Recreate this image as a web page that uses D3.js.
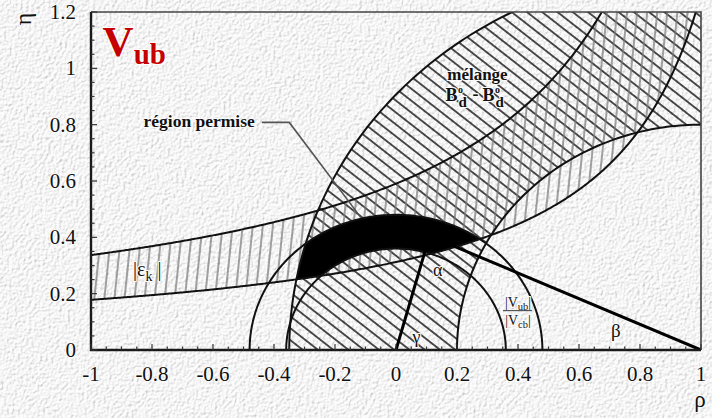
<!DOCTYPE html>
<html>
<head>
<meta charset="utf-8">
<script src="https://cdn.jsdelivr.net/npm/d3@7/dist/d3.min.js"></script>
<style>
  html, body { margin: 0; padding: 0; background: #eeeeee; }
  svg { display: block; }
  text { font-family: "Liberation Serif", "DejaVu Serif", serif; }
</style>
</head>
<body>
<svg id="chart" width="712" height="418"></svg>
<script>
// ---- Data: unitarity-triangle constraints in the (rho, eta) plane ----
const xTicks = [-1, -0.8, -0.6, -0.4, -0.2, 0, 0.2, 0.4, 0.6, 0.8, 1];
const xTickLabels = ["-1", "-0.8", "-0.6", "-0.4", "-0.2", "0", "0.2", "0.4", "0.6", "0.8", "1"];
const yTicks = [0, 0.2, 0.4, 0.6, 0.8, 1, 1.2];
const yTickLabels = ["0", "0.2", "0.4", "0.6", "0.8", "1", "1.2"];

// |Vub|/|Vcb| : circles centred on (0,0)
const vubCenter = [0, 0];
const vubRadius = [0.36, 0.48];
// B0d - B0d mixing : circles centred on (1,0)
const dmdCenter = [1, 0];
const dmdRadius = [0.80, 1.35];
// |eps_K| : hyperbolae  eta = k / (1 - rho + p)
const epsK = [0.415, 0.785];
const epsP = 0.329;
// apex of the triangle (rho, eta)
const apex = [0.11, 0.405];

const svg = d3.select("#chart");
const W = 712, H = 418;
const x = d3.scaleLinear().domain([-1, 1]).range([91, 701]);
const y = d3.scaleLinear().domain([0, 1.2]).range([350, 12]);

const defs = svg.append("defs");

// paper texture
const tex = defs.append("filter").attr("id", "paper")
  .attr("x", 0).attr("y", 0).attr("width", "100%").attr("height", "100%");
tex.append("feTurbulence").attr("type", "fractalNoise")
  .attr("baseFrequency", 0.36).attr("numOctaves", 2).attr("seed", 4).attr("result", "n");
tex.append("feDiffuseLighting").attr("in", "n").attr("surfaceScale", 1.4)
  .attr("diffuseConstant", 1.1).attr("lighting-color", "#ffffff").attr("result", "l")
  .append("feDistantLight").attr("azimuth", 225).attr("elevation", 58);

svg.append("rect").attr("width", W).attr("height", H).attr("fill", "#f3f3f3");
svg.append("rect").attr("width", W).attr("height", H).attr("filter", "url(#paper)").attr("opacity", 0.75);

// hatch patterns
function hatch(id, spacing, angle, color, width) {
  const p = defs.append("pattern").attr("id", id)
    .attr("patternUnits", "userSpaceOnUse")
    .attr("width", spacing).attr("height", 40)
    .attr("patternTransform", `rotate(${angle})`);
  p.append("line").attr("x1", spacing / 2).attr("x2", spacing / 2)
    .attr("y1", 0).attr("y2", 40)
    .attr("stroke", color).attr("stroke-width", width);
}
hatch("hDmd", 9.4, -52, "#1a1a1a", 1.5);
hatch("hEps", 10, 6, "#7a7a7a", 1.4);

// plot clip
defs.append("clipPath").attr("id", "clipPlot")
  .append("rect").attr("x", x(-1)).attr("y", y(1.2))
  .attr("width", x(1) - x(-1)).attr("height", y(0) - y(1.2));

// geometry helpers
const line = d3.line();
function circlePts(c, r) {
  return d3.range(0, 361, 1).map(a => {
    const t = a * Math.PI / 180;
    return [x(c[0] + r * Math.cos(t)), y(c[1] + r * Math.sin(t))];
  });
}
function circlePath(c, r) { return line(circlePts(c, r)) + "Z"; }
const rhoGrid = d3.range(-1, 1.0001, 0.004);
function epsPts(k) { return rhoGrid.map(r => [x(r), y(k / (1 - r + epsP))]); }

const dmdBand = circlePath(dmdCenter, dmdRadius[1]) + circlePath(dmdCenter, dmdRadius[0]);
const vubBand = circlePath(vubCenter, vubRadius[1]) + circlePath(vubCenter, vubRadius[0]);
const epsBand = line(epsPts(epsK[0]).concat(epsPts(epsK[1]).reverse())) + "Z";

defs.append("clipPath").attr("id", "clipDmd")
  .append("path").attr("d", dmdBand).attr("clip-rule", "evenodd");
defs.append("clipPath").attr("id", "clipEps")
  .append("path").attr("d", epsBand);

const plot = svg.append("g").attr("clip-path", "url(#clipPlot)");

// hatched bands
plot.append("path").attr("d", dmdBand).attr("fill", "url(#hDmd)").attr("fill-rule", "evenodd");
plot.append("path").attr("d", epsBand).attr("fill", "url(#hEps)");

// allowed region: intersection of all three constraints
plot.append("g").attr("clip-path", "url(#clipEps)")
  .append("g").attr("clip-path", "url(#clipDmd)")
  .append("path").attr("d", vubBand).attr("fill", "#000").attr("fill-rule", "evenodd");

// boundary curves
const curveStyle = s => s.attr("fill", "none").attr("stroke", "#111").attr("stroke-width", 2);
vubRadius.forEach(r => plot.append("path").attr("d", circlePath(vubCenter, r)).call(curveStyle));
dmdRadius.forEach(r => plot.append("path").attr("d", circlePath(dmdCenter, r)).call(curveStyle));
epsK.forEach(k => plot.append("path").attr("d", line(epsPts(k))).call(curveStyle));

// triangle sides
plot.append("path")
  .attr("d", line([[x(0), y(0)], [x(apex[0]), y(apex[1])], [x(1), y(0)]]))
  .attr("fill", "none").attr("stroke", "#000").attr("stroke-width", 3).attr("stroke-linejoin", "round");

// frame
svg.append("path")
  .attr("d", line([[x(-1), y(1.2)], [x(1), y(1.2)], [x(1), y(0)]]))
  .attr("fill", "none").attr("stroke", "#444").attr("stroke-width", 1.6);
svg.append("path")
  .attr("d", line([[x(-1), y(1.2)], [x(-1), y(0)], [x(1), y(0)]]))
  .attr("fill", "none").attr("stroke", "#1a1a1a").attr("stroke-width", 2.4);

// inside ticks
const minorX = d3.range(-1, 1.0001, 0.05);
const minorY = d3.range(0, 1.2001, 0.05);
const isMajor = v => Math.abs(v * 5 - Math.round(v * 5)) < 1e-6;
svg.append("g").selectAll("line").data(minorX).join("line")
  .attr("x1", d => x(d)).attr("x2", d => x(d))
  .attr("y1", y(0)).attr("y2", d => y(0) - (isMajor(d) ? 6 : 3.5))
  .attr("stroke", "#333").attr("stroke-width", 1.2);
svg.append("g").selectAll("line").data(minorY).join("line")
  .attr("y1", d => y(d)).attr("y2", d => y(d))
  .attr("x1", x(-1)).attr("x2", d => x(-1) + (isMajor(d) ? 6 : 3.5))
  .attr("stroke", "#333").attr("stroke-width", 1.2);

// text with a light halo
function label(g) {
  return g.attr("fill", "#111").attr("stroke", "#fafafa").attr("stroke-width", 2.2)
    .attr("stroke-linejoin", "round").attr("paint-order", "stroke");
}

svg.append("g").selectAll("text").data(xTicks).join("text")
  .attr("x", d => x(d)).attr("y", 381).attr("text-anchor", "middle")
  .attr("font-size", 21).text((d, i) => xTickLabels[i]).call(label);
svg.append("g").selectAll("text").data(yTicks).join("text")
  .attr("x", 76).attr("y", d => y(d) + 7).attr("text-anchor", "end")
  .attr("font-size", 21).text((d, i) => yTickLabels[i]).call(label);

// axis titles
svg.append("text").attr("transform", "translate(31,19) rotate(-90)")
  .attr("text-anchor", "middle").attr("font-size", 24).text("η").call(label);
svg.append("text").attr("x", 700).attr("y", 407).attr("text-anchor", "middle")
  .attr("font-size", 23).text("ρ").call(label);

// title
const t = svg.append("text").attr("x", x(-0.962)).attr("y", y(1.045))
  .attr("font-weight", "bold").attr("fill", "#c40000")
  .attr("stroke", "#ffffff").attr("stroke-width", 2).attr("paint-order", "stroke");
t.append("tspan").attr("font-size", 43).text("V");
t.append("tspan").attr("font-size", 29).attr("dy", 8).text("ub");

// annotations
svg.append("text").attr("x", x(-0.463)).attr("y", y(0.79)).attr("text-anchor", "end")
  .attr("font-size", 17.5).attr("font-weight", "bold").text("région permise").call(label);
svg.append("path")
  .attr("d", line([[x(-0.44), y(0.808)], [x(-0.35), y(0.808)], [x(-0.115), y(0.47)]]))
  .attr("fill", "none").attr("stroke", "#555").attr("stroke-width", 1.6);

svg.append("text").attr("x", x(0.168)).attr("y", y(0.959))
  .attr("font-size", 17).attr("font-weight", "bold").text("mélange").call(label);
// B0d - B0d, built from separate pieces so the marks stack cleanly
const bx = x(0.162), by = y(0.883);
const bParts = [
  { t: "B", dx: 0, dy: 0, s: 18 },
  { t: "o", dx: 12.5, dy: -8, s: 10 },
  { t: "d", dx: 13, dy: 6, s: 15 },
  { t: "-", dx: 27, dy: -1, s: 18 },
  { t: "B", dx: 37, dy: 0, s: 18 },
  { t: "o", dx: 49.5, dy: -8, s: 10 },
  { t: "d", dx: 50, dy: 6, s: 15 }
];
svg.append("g").selectAll("text").data(bParts).join("text")
  .attr("x", d => bx + d.dx).attr("y", d => by + d.dy)
  .attr("font-size", d => d.s).attr("font-weight", "bold").text(d => d.t).call(label);

const ek = svg.append("text").attr("x", x(-0.862)).attr("y", y(0.262))
  .attr("font-size", 20).call(label);
ek.append("tspan").text("|ε");
ek.append("tspan").attr("font-size", 14).attr("dy", 5).text("k");
ek.append("tspan").attr("dy", -5).text(" |");

svg.append("text").attr("x", x(0.121)).attr("y", y(0.262)).attr("font-size", 18).text("α").call(label);
svg.append("text").attr("x", x(0.054)).attr("y", y(0.026)).attr("font-size", 18).text("γ").call(label);
svg.append("text").attr("x", x(0.705)).attr("y", y(0.045)).attr("font-size", 19).text("β").call(label);

// |Vub| / |Vcb| fraction
const fx = x(0.4), fy = y(0.14);
const num = svg.append("text").attr("x", fx).attr("y", fy - 4).attr("text-anchor", "middle")
  .attr("font-size", 14).call(label);
num.append("tspan").text("|V");
num.append("tspan").attr("font-size", 10.5).attr("dy", 3).text("ub");
num.append("tspan").attr("dy", -3).text("|");
svg.append("line").attr("x1", fx - 15).attr("x2", fx + 14).attr("y1", fy).attr("y2", fy)
  .attr("stroke", "#555").attr("stroke-width", 1.2);
const den = svg.append("text").attr("x", fx).attr("y", fy + 14).attr("text-anchor", "middle")
  .attr("font-size", 14).call(label);
den.append("tspan").text("|V");
den.append("tspan").attr("font-size", 10.5).attr("dy", 3).text("cb");
den.append("tspan").attr("dy", -3).text("|");
</script>
</body>
</html>
